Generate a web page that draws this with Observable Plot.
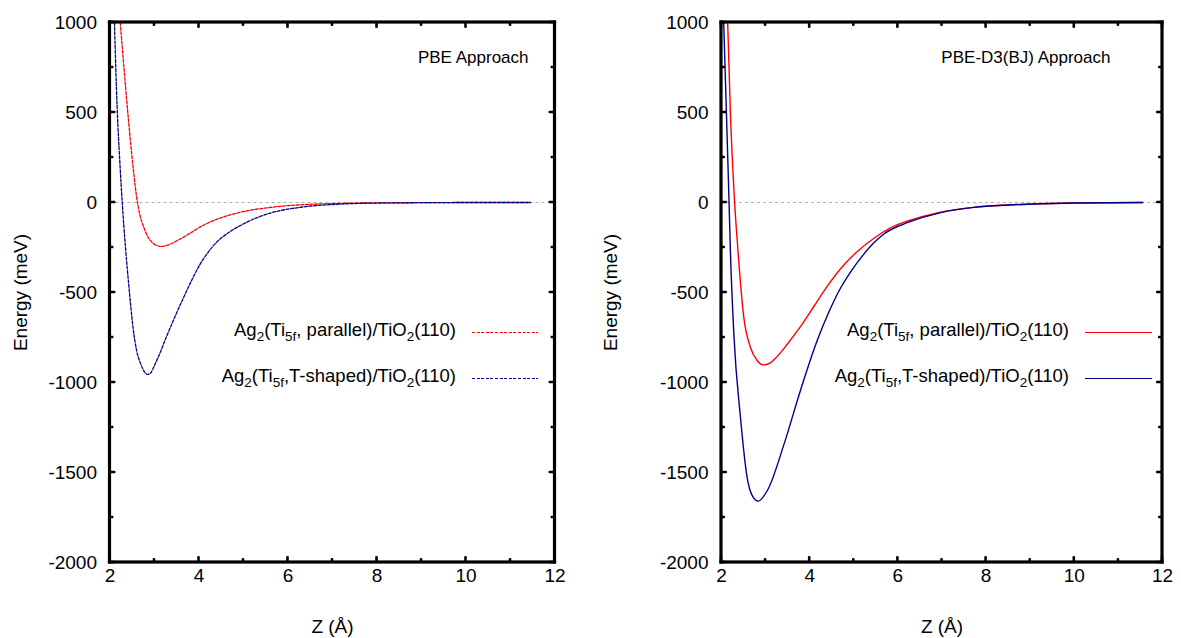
<!DOCTYPE html>
<html><head><meta charset="utf-8">
<script src="https://cdn.jsdelivr.net/npm/d3@7"></script>
<script src="https://cdn.jsdelivr.net/npm/@observablehq/plot@0.6"></script>
<style>
body{margin:0;background:#fff;font-family:"Liberation Sans",Arial,Helvetica,sans-serif;}
#wrap{position:relative;width:1181px;height:638px;overflow:hidden;background:#fff;display:flex;flex-direction:row;align-items:flex-start}
#wrap > svg{flex:none}
.leg{position:absolute;font-size:18.5px;color:#000;white-space:nowrap;line-height:18px}
.leg sub{font-size:13.5px;vertical-align:-5px;line-height:0}
.legline{position:absolute}
</style></head><body><div id="wrap"></div>
<script>
// ---------- data ----------
// PBE approach
const zPbeParallel = [2.23, 2.31, 2.40, 2.48, 2.54, 2.59, 2.64, 2.70, 2.77, 2.85, 2.95, 3.05, 3.13, 3.22, 3.35, 3.50, 3.65, 3.85, 4.02, 4.33, 4.77, 5.08, 5.52, 5.83, 6.20, 6.58, 7.00, 7.33, 8.0, 9.0, 10.0, 11.45];
const ePbeParallel = [1000, 760, 500, 290, 150, 45, -30, -95, -145, -190, -222, -239, -244, -242, -232, -213, -193, -163, -137, -100, -64, -46, -30, -21, -14, -9, -6, -4, -2, -1, 0, 0];
const zPbeTshaped  = [2.10, 2.16, 2.22, 2.28, 2.35, 2.43, 2.52, 2.60, 2.68, 2.76, 2.85, 2.92, 3.00, 3.10, 3.27, 3.45, 3.65, 3.85, 4.02, 4.20, 4.40, 4.71, 5.08, 5.52, 5.83, 6.27, 6.58, 7.00, 7.33, 8.0, 9.0, 10.0, 11.45];
const ePbeTshaped  = [1000, 530, 230, -20, -256, -480, -700, -825, -890, -935, -955, -945, -905, -850, -745, -640, -530, -425, -345, -278, -220, -160, -109, -65, -45, -27, -18, -11, -7, -3, -1, 0, 0];
// PBE-D3(BJ) approach
const zD3Parallel = [2.14, 2.20, 2.295, 2.37, 2.505, 2.655, 2.80, 2.95, 3.10, 3.25, 3.50, 3.79, 4.10, 4.40, 4.70, 5.00, 5.45, 6.00, 6.21, 6.97, 7.72, 8.5, 9.23, 10.0, 10.8, 11.55];
const eD3Parallel = [1000, 511, 11, -256, -637, -804, -875, -902, -892, -859, -785, -690, -575, -465, -368, -290, -200, -122, -104, -54, -27, -14, -7, -3, -1, 0];
const zD3Tshaped  = [2.05, 2.11, 2.17, 2.20, 2.28, 2.43, 2.58, 2.70, 2.83, 3.04, 3.42, 3.79, 4.17, 4.45, 4.70, 4.93, 5.20, 5.45, 5.70, 6.00, 6.21, 6.97, 7.72, 8.5, 9.23, 10.0, 10.8, 11.55];
const eD3Tshaped  = [1000, 511, 11, -256, -730, -1193, -1526, -1630, -1659, -1600, -1341, -1044, -767, -600, -475, -385, -295, -225, -172, -132, -112, -56, -27, -14, -7, -3, -1, 0];

const seriesNames = ["Ag2(Ti5f, parallel)/TiO2(110)", "Ag2(Ti5f,T-shaped)/TiO2(110)"];
const panelTitles = ["PBE Approach", "PBE-D3(BJ) Approach"];
const xMajorTicks = [2, 4, 6, 8, 10, 12];
const xMinorTicks = [3, 5, 7, 9, 11];
const yMajorTicks = [1000, 500, 0, -500, -1000, -1500, -2000];
const yMinorTicks = [750, 250, -250, -750, -1250, -1750];
const xLabel = "Z (Å)";
const yLabel = "Energy (meV)";

// ---------- drawing ----------
const RED = "#ff0000", BLUE = "#00008b";
const FONT = '"Liberation Sans", Arial, Helvetica, sans-serif';
const X0 = 2, X1 = 12, Y0 = -2000, Y1 = 1000;
const wrap = document.getElementById("wrap");

function toRows(z, e, name) { return z.map((v, i) => ({z: v, e: e[i], name})); }

function makePanel(cfg) {
  const {width, mL, mR, series, dashed, title, titleDx} = cfg;
  const plotW = width - mL - mR, plotH = 638 - 22 - 76;
  const xpp = (X1 - X0) / plotW, ypp = (Y1 - Y0) / plotH; // data units per pixel
  const h = 1.6;   // half frame thickness, px
  const tw = 1.3;  // half tick thickness, px
  const blk = {fill: "#000", stroke: null};
  // frame drawn as filled bars (robust thickness)
  const frameBars = [
    Plot.rect([X0], {x1: d => d - h * xpp, x2: d => d + h * xpp, y1: Y0 - h * ypp, y2: Y1 + h * ypp, ...blk}),
    Plot.rect([X1], {x1: d => d - h * xpp, x2: d => d + h * xpp, y1: Y0 - h * ypp, y2: Y1 + h * ypp, ...blk}),
    Plot.rect([Y0], {y1: d => d - h * ypp, y2: d => d + h * ypp, x1: X0 - h * xpp, x2: X1 + h * xpp, ...blk}),
    Plot.rect([Y1], {y1: d => d - h * ypp, y2: d => d + h * ypp, x1: X0 - h * xpp, x2: X1 + h * xpp, ...blk})
  ];
  // inward mirror ticks as filled bars
  const xt = (ticks, base, len, dir) => Plot.rect(ticks, {x1: d => d - tw * xpp, x2: d => d + tw * xpp,
    y1: base, y2: base + dir * len * ypp, rx: 1, ...blk});
  const yt = (ticks, base, len, dir) => Plot.rect(ticks, {y1: d => d - tw * ypp, y2: d => d + tw * ypp,
    x1: base, x2: base + dir * len * xpp, rx: 1, ...blk});
  const tickBars = [
    xt(xMajorTicks, Y0, 6, 1), xt(xMinorTicks, Y0, 4, 1),
    xt(xMajorTicks, Y1, 6, -1), xt(xMinorTicks, Y1, 4, -1),
    yt(yMajorTicks, X0, 6, 1), yt(yMinorTicks, X0, 4, 1),
    yt(yMajorTicks, X1, 6, -1), yt(yMinorTicks, X1, 4, -1)
  ];
  const chart = Plot.plot({
    width, height: 638,
    marginLeft: mL, marginRight: mR, marginTop: 22, marginBottom: 76,
    x: {domain: [X0, X1]},
    y: {domain: [Y0, Y1]},
    style: {fontFamily: FONT, fontSize: "19px", color: "#000", background: "transparent", overflow: "visible"},
    marks: [
      Plot.ruleY([0], {stroke: "#b0b0b0", strokeWidth: 1, strokeDasharray: "3,3"}),
      ...series.map(s => Plot.line(s.rows, {x: "z", y: "e", stroke: s.color, strokeWidth: dashed ? 1.3 : 1.4,
        strokeDasharray: dashed ? "3,1.6" : null, curve: "monotone-x", clip: true})),
      Plot.axisX({anchor: "bottom", ticks: xMajorTicks, tickSize: 0, tickPadding: 6, fontSize: 19, label: null, tickFormat: d => String(d)}),
      Plot.axisY({anchor: "left", ticks: yMajorTicks, tickSize: 0, tickPadding: 13, fontSize: 19, label: null, tickFormat: d => String(d)}),
      ...tickBars,
      ...frameBars,
      Plot.text([title], {frameAnchor: "top-right", dx: titleDx, dy: 35, textAnchor: "end", lineAnchor: "middle", fontSize: 17}),
      Plot.text([yLabel], {frameAnchor: "left", dx: -(mL - 20), rotate: -90, textAnchor: "middle", lineAnchor: "middle", fontSize: 19}),
      Plot.text([xLabel], {frameAnchor: "bottom", dy: 64, textAnchor: "middle", lineAnchor: "middle", fontSize: 19})
    ]
  });
  wrap.appendChild(chart);
}

makePanel({
  width: 590, mL: 109.5, mR: 35.5, dashed: true, title: panelTitles[0], titleDx: -26.5,
  series: [
    {rows: toRows(zPbeParallel, ePbeParallel, seriesNames[0]), color: RED},
    {rows: toRows(zPbeTshaped, ePbeTshaped, seriesNames[1]), color: BLUE}
  ]
});
makePanel({
  width: 591, mL: 131, mR: 19, dashed: false, title: panelTitles[1], titleDx: -52,
  series: [
    {rows: toRows(zD3Parallel, eD3Parallel, seriesNames[0]), color: RED},
    {rows: toRows(zD3Tshaped, eD3Tshaped, seriesNames[1]), color: BLUE}
  ]
});

// ---------- legends (HTML text with subscripts) ----------
function subHtml(name) {
  return name.replace(/Ag2/, "Ag<sub>2</sub>").replace(/Ti5f/, "Ti<sub>5f</sub>").replace(/TiO2/, "TiO<sub>2</sub>");
}
function legend(textRight, lineX1, lineX2, rowsY, dashed) {
  const colors = [RED, BLUE];
  seriesNames.forEach((name, i) => {
    const t = document.createElement("div");
    t.className = "leg";
    t.innerHTML = subHtml(name);
    t.style.right = (1181 - textRight) + "px";
    t.style.top = (rowsY[i] - 10) + "px";
    wrap.appendChild(t);
    const l = document.createElement("div");
    l.className = "legline";
    l.style.left = lineX1 + "px";
    l.style.width = (lineX2 - lineX1) + "px";
    l.style.top = (rowsY[i] + 1) + "px";
    l.style.height = dashed ? "1.3px" : "1.4px";
    l.style.background = dashed
      ? `repeating-linear-gradient(to right, ${colors[i]} 0 3px, transparent 3px 4.6px)`
      : colors[i];
    wrap.appendChild(l);
  });
}
legend(456, 472, 538, [331, 377], true);
legend(1069, 1085, 1152, [331, 377], false);
</script>
</body></html>
